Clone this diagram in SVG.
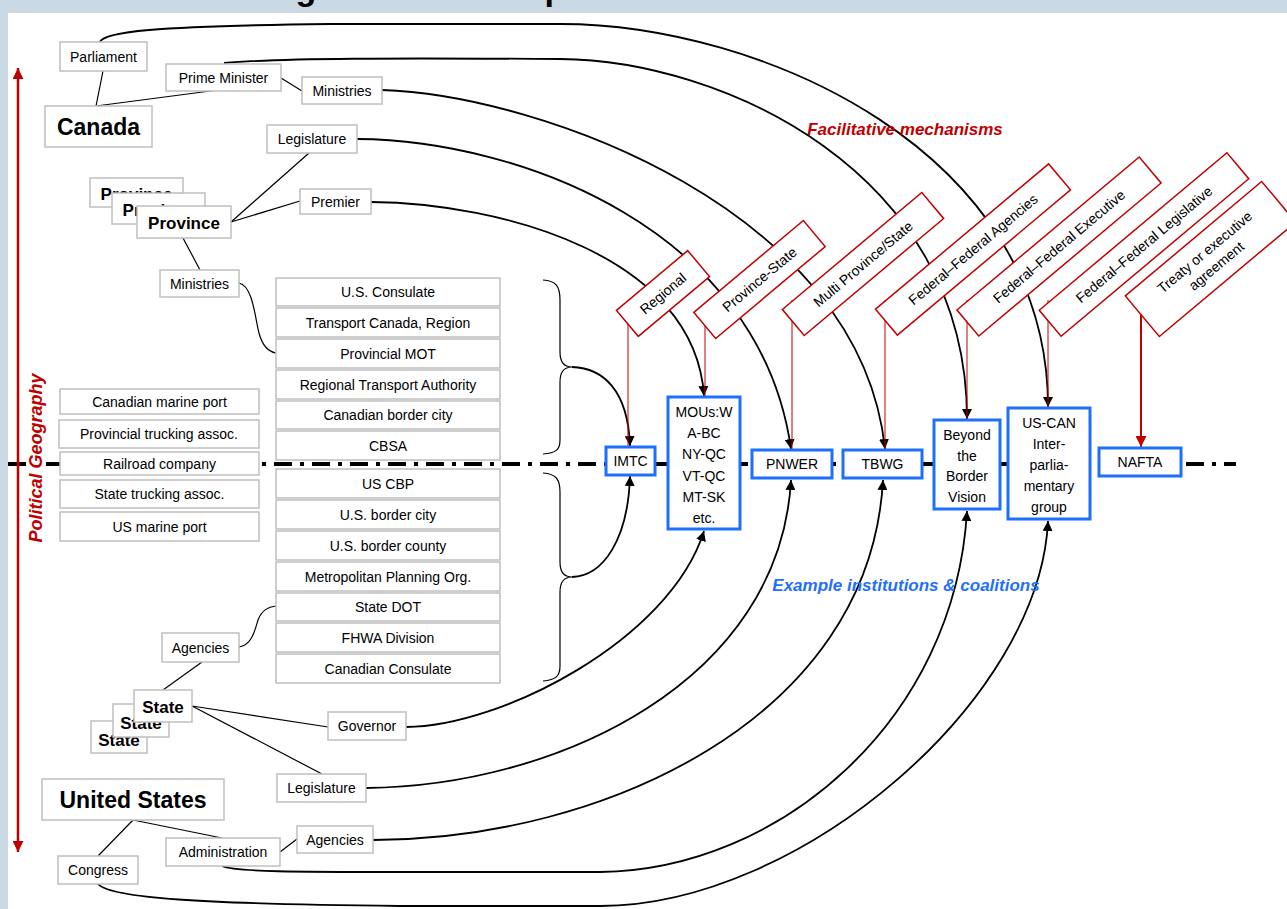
<svg xmlns="http://www.w3.org/2000/svg" width="1287" height="909" viewBox="0 0 1287 909">
<defs>
<style>
.bx{fill:#fff;stroke:#BFBFBF;stroke-width:1.5}
.t{font-family:"Liberation Sans",Arial,sans-serif;font-size:14px;fill:#000;text-anchor:middle}
.tb{font-weight:bold}
.big{font-size:23px}
.mid{font-size:17px}
.rb{fill:#fff;stroke:#C00000;stroke-width:1.5}
.bb{fill:#fff;stroke:#1F6FFF;stroke-width:3}
.arc{fill:none;stroke:#000;stroke-width:1.8}
.ln{fill:none;stroke:#000;stroke-width:1.2}
.rl{fill:none;stroke:#C00000;stroke-width:1}
</style>
<marker id="ah" viewBox="0 0 10 10" refX="10" refY="5" markerWidth="10" markerHeight="10" markerUnits="userSpaceOnUse" orient="auto"><path d="M0,0 L10,5 L0,10 z" fill="#000"/></marker>
<marker id="rah" viewBox="0 0 10 10" refX="10" refY="5" markerWidth="11" markerHeight="11" markerUnits="userSpaceOnUse" orient="auto-start-reverse"><path d="M0,0 L10,5 L0,10 z" fill="#C00000"/></marker>
</defs>

<rect x="0" y="0" width="1287" height="909" fill="#CAD8E3"/>
<g id="title-fragment" font-family="Liberation Sans, Arial, sans-serif" font-size="34" font-weight="bold" fill="#000">
<text x="306" y="0" text-anchor="middle">g</text>
<text x="555" y="0" text-anchor="middle">p</text>
</g>
<rect x="8" y="13" width="1279" height="896" fill="#fff"/>

<g id="border-line">
<line x1="8" y1="464" x2="1236" y2="464" stroke="#000" stroke-width="4" stroke-dasharray="18 8 4 8"/>
</g>

<g id="geo-axis">
<path d="M18,68 L18,852" stroke="#C00000" stroke-width="2.5" fill="none" marker-start="url(#rah)" marker-end="url(#rah)"/>
<text transform="translate(42,458) rotate(-90)" font-family="Liberation Sans, Arial, sans-serif" font-size="18" font-weight="bold" font-style="italic" fill="#C00000" stroke="#fff" stroke-width="4" paint-order="stroke" text-anchor="middle">Political Geography</text>
</g>

<g id="connectors">
<path class="ln" d="M96,106 L103,71"/>
<path class="ln" d="M96,106 L218,90"/>
<path class="ln" d="M281,78 L302,91"/>
<path class="ln" d="M231,222 L309,153"/>
<path class="ln" d="M231,222 L300,201"/>
<path class="ln" d="M183,238 L200,270"/>
<path class="ln" d="M239,283 C253,286 255,318 259,333 C263,348 270,352 276,353"/>
<path class="ln" d="M239,647 C252,645 255,630 258,620 C262,610 268,607 276,606"/>
<path class="ln" d="M202,662 L163,690"/>
<path class="ln" d="M192,706 L328,727"/>
<path class="ln" d="M192,706 L322,774"/>
<path class="ln" d="M133,820 L98,856"/>
<path class="ln" d="M133,820 L222,838"/>
<path class="ln" d="M280,852 L297,839"/>
<path class="ln" d="M543,280 C556,281 560,286 560,300 L560,352 C560,362 564,367 572,367 C564,367 560,372 560,382 L560,440 C560,450 556,453 543,454"/>
<path class="ln" d="M543,473 C556,474 560,479 560,492 L560,562 C560,572 564,577 572,577 C564,577 560,582 560,592 L560,666 C560,676 556,680 543,681"/>
<path class="arc" d="M572,367 C603,368 628,390 630,446" marker-end="url(#ah)"/>
<path class="arc" d="M572,577 C603,576 628,540 630,476" marker-end="url(#ah)"/>
<path class="arc" d="M100,42 C104,32 150,26 330,24 L560,24 C760,24 1048,150 1048,407" marker-end="url(#ah)"/>
<path class="arc" d="M224,63 C280,58 400,58 560,59 C720,60 967,170 967,419" marker-end="url(#ah)"/>
<path class="arc" d="M382,90 C540,95 860,210 885,449" marker-end="url(#ah)"/>
<path class="arc" d="M357,139 C520,140 760,230 791,449" marker-end="url(#ah)"/>
<path class="arc" d="M371,202 C500,203 695,255 704,396" marker-end="url(#ah)"/>
<path class="arc" d="M406,727 C500,727 670,640 704,531" marker-end="url(#ah)"/>
<path class="arc" d="M366,788 C560,786 780,680 791,480" marker-end="url(#ah)"/>
<path class="arc" d="M373,840 C600,840 870,720 883,480" marker-end="url(#ah)"/>
<path class="arc" d="M222,866 C235,872 300,872 400,872 L600,872 C780,870 955,720 967,511" marker-end="url(#ah)"/>
<path class="arc" d="M98,884 C110,898 200,904 400,906 L600,906 C800,906 1040,700 1048,521" marker-end="url(#ah)"/>
<path class="rl" d="M628,310 L628,446"/>
<path class="rl" d="M705,310 L705,396"/>
<path class="rl" d="M792,300 L792,449"/>
<path class="rl" d="M885,300 L885,449"/>
<path class="rl" d="M967,300 L967,419"/>
<path class="rl" d="M1048,300 L1048,407"/>
<path d="M1141,300 L1141,447" stroke="#C00000" stroke-width="2" fill="none" marker-end="url(#rah)"/>
</g>

<g id="parliament"><rect class="bx" x="60" y="42" width="87" height="29"/><text class="t" x="103.5" y="61.5">Parliament</text></g>
<g id="prime-minister"><rect class="bx" x="166" y="64" width="115" height="27"/><text class="t" x="223.5" y="82.5">Prime Minister</text></g>
<g id="ministries-fed"><rect class="bx" x="302" y="77" width="80" height="27"/><text class="t" x="342" y="95.5">Ministries</text></g>
<g id="canada"><rect class="bx" x="45" y="106" width="107" height="41"/><text class="t tb big" x="98.5" y="135">Canada</text></g>
<g id="legislature-can"><rect class="bx" x="267" y="125" width="90" height="28"/><text class="t" x="312" y="144">Legislature</text></g>
<g id="province">
<rect class="bx" x="90" y="178" width="93" height="29"/><text class="t tb mid" x="136.5" y="200">Province</text>
<rect class="bx" x="112" y="193" width="93" height="31"/><text class="t tb mid" x="158.5" y="216">Province</text>
<rect class="bx" x="137" y="206" width="94" height="32"/><text class="t tb mid" x="184" y="229">Province</text>
</g>
<g id="premier"><rect class="bx" x="300" y="189" width="71" height="25"/><text class="t" x="335.5" y="206.5">Premier</text></g>
<g id="ministries-prov"><rect class="bx" x="160" y="270" width="79" height="27"/><text class="t" x="199.5" y="288.5">Ministries</text></g>

<g id="us-consulate"><rect class="bx" x="276" y="278" width="224" height="28"/><text class="t" x="388" y="297">U.S. Consulate</text></g>
<g id="transport-canada"><rect class="bx" x="276" y="308" width="224" height="29"/><text class="t" x="388" y="327.5">Transport Canada, Region</text></g>
<g id="provincial-mot"><rect class="bx" x="276" y="339" width="224" height="29"/><text class="t" x="388" y="358.5">Provincial MOT</text></g>
<g id="regional-ta"><rect class="bx" x="276" y="370" width="224" height="29"/><text class="t" x="388" y="389.5">Regional Transport Authority</text></g>
<g id="canadian-border-city"><rect class="bx" x="276" y="401" width="224" height="28"/><text class="t" x="388" y="420">Canadian border city</text></g>
<g id="cbsa"><rect class="bx" x="276" y="431" width="224" height="29"/><text class="t" x="388" y="450.5">CBSA</text></g>
<g id="us-cbp"><rect class="bx" x="276" y="469" width="224" height="29"/><text class="t" x="388" y="488.5">US CBP</text></g>
<g id="us-border-city"><rect class="bx" x="276" y="500" width="224" height="29"/><text class="t" x="388" y="519.5">U.S. border city</text></g>
<g id="us-border-county"><rect class="bx" x="276" y="531" width="224" height="29"/><text class="t" x="388" y="550.5">U.S. border county</text></g>
<g id="mpo"><rect class="bx" x="276" y="562" width="224" height="29"/><text class="t" x="388" y="581.5">Metropolitan Planning Org.</text></g>
<g id="state-dot"><rect class="bx" x="276" y="593" width="224" height="28"/><text class="t" x="388" y="612">State DOT</text></g>
<g id="fhwa"><rect class="bx" x="276" y="623" width="224" height="29"/><text class="t" x="388" y="642.5">FHWA Division</text></g>
<g id="canadian-consulate"><rect class="bx" x="276" y="654" width="224" height="29"/><text class="t" x="388" y="673.5">Canadian Consulate</text></g>

<g id="canadian-marine-port"><rect class="bx" x="60" y="389" width="199" height="25"/><text class="t" x="159.5" y="406.5">Canadian marine port</text></g>
<g id="prov-trucking"><rect class="bx" x="59" y="420" width="200" height="28"/><text class="t" x="159" y="438.5">Provincial trucking assoc.</text></g>
<g id="railroad"><rect class="bx" x="60" y="452" width="199" height="23"/><text class="t" x="159.5" y="468.5">Railroad company</text></g>
<g id="state-trucking"><rect class="bx" x="60" y="480" width="199" height="28"/><text class="t" x="159.5" y="499">State trucking assoc.</text></g>
<g id="us-marine-port"><rect class="bx" x="60" y="512" width="199" height="29"/><text class="t" x="159.5" y="531.5">US marine port</text></g>

<g id="agencies-state"><rect class="bx" x="162" y="633" width="77" height="29"/><text class="t" x="200.5" y="652.5">Agencies</text></g>
<g id="state">
<rect class="bx" x="91" y="721" width="56" height="32"/><text class="t tb mid" x="119" y="746">State</text>
<rect class="bx" x="113" y="704" width="56" height="33"/><text class="t tb mid" x="141" y="729">State</text>
<rect class="bx" x="134" y="690" width="58" height="32"/><text class="t tb mid" x="163" y="713">State</text>
</g>
<g id="governor"><rect class="bx" x="328" y="712" width="78" height="28"/><text class="t" x="367" y="731">Governor</text></g>
<g id="legislature-us"><rect class="bx" x="277" y="774" width="89" height="28"/><text class="t" x="321.5" y="793">Legislature</text></g>
<g id="united-states"><rect class="bx" x="42" y="779" width="182" height="41"/><text class="t tb big" x="133" y="808">United States</text></g>
<g id="administration"><rect class="bx" x="166" y="838" width="114" height="28"/><text class="t" x="223" y="857">Administration</text></g>
<g id="agencies-us"><rect class="bx" x="297" y="826" width="76" height="27"/><text class="t" x="335" y="844.5">Agencies</text></g>
<g id="congress"><rect class="bx" x="58" y="856" width="80" height="28"/><text class="t" x="98" y="875">Congress</text></g>

<g id="imtc"><rect class="bb" x="606" y="447" width="49" height="28"/><text class="t" x="630.5" y="466">IMTC</text></g>
<g id="mous"><rect class="bb" x="668" y="397" width="72" height="132"/>
<text class="t" x="704" y="417">MOUs:W</text><text class="t" x="704" y="438">A-BC</text><text class="t" x="704" y="459">NY-QC</text><text class="t" x="704" y="481">VT-QC</text><text class="t" x="704" y="502">MT-SK</text><text class="t" x="704" y="523">etc.</text></g>
<g id="pnwer"><rect class="bb" x="752" y="450" width="80" height="28"/><text class="t" x="792" y="469">PNWER</text></g>
<g id="tbwg"><rect class="bb" x="843" y="450" width="79" height="28"/><text class="t" x="882.5" y="469">TBWG</text></g>
<g id="beyond-border"><rect class="bb" x="934" y="420" width="66" height="89"/>
<text class="t" x="967" y="440">Beyond</text><text class="t" x="967" y="461">the</text><text class="t" x="967" y="481">Border</text><text class="t" x="967" y="502">Vision</text></g>
<g id="us-can-ipg"><rect class="bb" x="1008" y="408" width="82" height="111"/>
<text class="t" x="1049" y="428">US-CAN</text><text class="t" x="1049" y="449">Inter-</text><text class="t" x="1049" y="470">parlia-</text><text class="t" x="1049" y="491">mentary</text><text class="t" x="1049" y="512">group</text></g>
<g id="nafta"><rect class="bb" x="1099" y="448" width="82" height="28"/><text class="t" x="1140" y="467">NAFTA</text></g>

<g id="mech-regional" transform="translate(663,293.5) rotate(-40)"><rect class="rb" x="-46.5" y="-17" width="93" height="34"/><text class="t" x="0" y="5">Regional</text></g>
<g id="mech-province-state" transform="translate(759.5,279.5) rotate(-40)"><rect class="rb" x="-71.5" y="-17" width="143" height="34"/><text class="t" x="0" y="5">Province-State</text></g>
<g id="mech-multi" transform="translate(863,264) rotate(-40)"><rect class="rb" x="-91" y="-17" width="182" height="34"/><text class="t" x="0" y="5">Multi Province/State</text></g>
<g id="mech-ff-agencies" transform="translate(973,249.5) rotate(-40)"><rect class="rb" x="-113" y="-17" width="226" height="34"/><text class="t" x="0" y="5">Federal–Federal Agencies</text></g>
<g id="mech-ff-executive" transform="translate(1059,246.5) rotate(-40)"><rect class="rb" x="-119" y="-17" width="238" height="34"/><text class="t" x="0" y="5">Federal–Federal Executive</text></g>
<g id="mech-ff-legislative" transform="translate(1144,244.5) rotate(-40)"><rect class="rb" x="-122.5" y="-17" width="245" height="34"/><text class="t" x="0" y="5">Federal–Federal Legislative</text></g>
<g id="mech-treaty" transform="translate(1210.5,259) rotate(-40)"><rect class="rb" x="-89" y="-26.5" width="178" height="53"/><text class="t" x="0" y="-4">Treaty or executive</text><text class="t" x="0" y="14">agreement</text></g>

<g id="labels" font-family="Liberation Sans, Arial, sans-serif" font-size="17" font-weight="bold" font-style="italic" text-anchor="middle">
<text x="905" y="135" fill="#C00000">Facilitative mechanisms</text>
<text x="906" y="591" fill="#1F6FFF">Example institutions &amp; coalitions</text>
</g>
</svg>
